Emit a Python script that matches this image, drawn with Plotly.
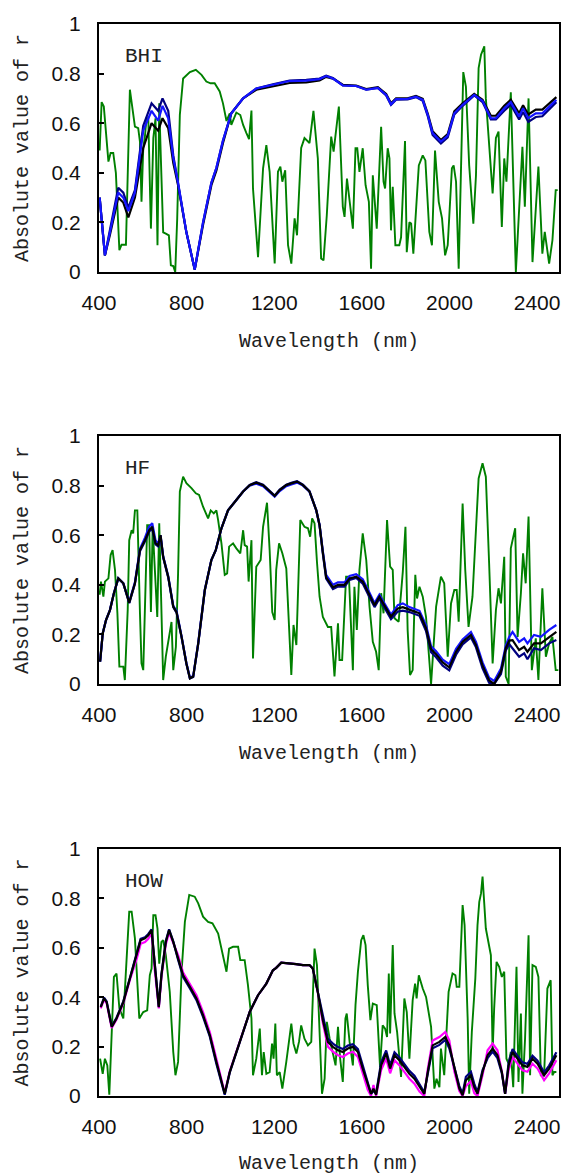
import plotly.graph_objects as go

# ---------------- data ----------------
# Panel BHI
bhi_green_wl = [403, 412, 422, 443, 453, 465, 477, 493, 503, 523, 541, 553, 564, 579, 587, 594, 602, 610, 617, 625,
                637, 648, 658, 667, 675, 682, 693, 705, 719, 728, 739, 748, 757, 769, 784, 815, 842, 868, 890, 909,
                928, 951, 966, 982, 997, 1004, 1027, 1045, 1058, 1073, 1085, 1096, 1103, 1126, 1149, 1164, 1179, 1202,
                1217, 1228, 1237, 1250, 1263, 1278, 1293, 1304, 1323, 1338, 1361, 1379, 1399, 1414, 1425, 1440, 1460,
                1471, 1495, 1513, 1521, 1532, 1559, 1571, 1579, 1589, 1604, 1617, 1632, 1642, 1650, 1668, 1688, 1699,
                1706, 1718, 1726, 1733, 1741, 1753, 1771, 1779, 1797, 1805, 1817, 1825, 1835, 1860, 1878, 1890, 1908,
                1920, 1934, 1951, 1966, 1980, 1992, 2011, 2019, 2030, 2042, 2063, 2075, 2090, 2109, 2121, 2133, 2144,
                2159, 2166, 2181, 2197, 2212, 2224, 2239, 2250, 2260, 2280, 2303, 2318, 2333, 2344, 2361, 2379, 2406,
                2424, 2435, 2455, 2470, 2485, 2494]
bhi_green = [0.49, 0.685, 0.667, 0.445, 0.48, 0.48, 0.40, 0.088, 0.11, 0.11, 0.735, 0.66, 0.586, 0.58, 0.525, 0.283,
             0.50, 0.55, 0.62, 0.62, 0.175, 0.54, 0.62, 0.108, 0.68, 0.47, 0.16, 0.155, 0.148, 0.027, 0.024, 0.0,
             0.215, 0.633, 0.78, 0.806, 0.815, 0.795, 0.768, 0.761, 0.761, 0.728, 0.68, 0.609, 0.64, 0.593, 0.643,
             0.633, 0.593, 0.56, 0.536, 0.651, 0.337, 0.06, 0.418, 0.512, 0.404, 0.034, 0.404, 0.425, 0.364, 0.41,
             0.108, 0.034, 0.216, 0.148, 0.50, 0.54, 0.52, 0.65, 0.458, 0.054, 0.047, 0.23, 0.546, 0.485, 0.667,
             0.263, 0.222, 0.377, 0.175, 0.499, 0.499, 0.404, 0.499, 0.35, 0.283, 0.013, 0.39, 0.175, 0.586, 0.364,
             0.337, 0.499, 0.458, 0.168, 0.344, 0.108, 0.108, 0.14, 0.528, 0.08, 0.2, 0.195, 0.074, 0.43, 0.47, 0.45,
             0.162, 0.108, 0.49, 0.283, 0.216, 0.067, 0.108, 0.418, 0.43, 0.364, 0.013, 0.806, 0.748, 0.43, 0.195,
             0.39, 0.822, 0.876, 0.91, 0.70, 0.499, 0.317, 0.54, 0.566, 0.182, 0.458, 0.364, 0.725, 0.0, 0.229,
             0.505, 0.263, 0.70, 0.04, 0.425, 0.074, 0.162, 0.034, 0.128, 0.33, 0.33]

bhi_wl = [403, 427, 450, 488, 511, 534, 564, 602, 640, 670, 690, 716, 739, 761, 799, 837, 875, 913, 936, 966, 1004,
          1058, 1118, 1194, 1270, 1346, 1407, 1437, 1468, 1513, 1574, 1620, 1673, 1711, 1733, 1756, 1809, 1847, 1878,
          1901, 1923, 1961, 1992, 2022, 2060, 2113, 2151, 2189, 2212, 2250, 2280, 2318, 2336, 2360, 2394, 2424, 2455,
          2488]
bhi_blue = [0.30, 0.067, 0.16, 0.32, 0.30, 0.245, 0.32, 0.57, 0.65, 0.61, 0.67, 0.62, 0.46, 0.36, 0.16, 0.01, 0.20,
            0.36, 0.42, 0.53, 0.64, 0.70, 0.74, 0.755, 0.77, 0.772, 0.778, 0.79, 0.78, 0.752, 0.75, 0.735, 0.742,
            0.714, 0.676, 0.697, 0.698, 0.707, 0.694, 0.633, 0.56, 0.526, 0.55, 0.64, 0.674, 0.714, 0.69, 0.62, 0.62,
            0.66, 0.685, 0.627, 0.66, 0.62, 0.64, 0.64, 0.667, 0.694]
bhi_navy = [0.30, 0.067, 0.17, 0.34, 0.32, 0.26, 0.33, 0.59, 0.68, 0.65, 0.70, 0.65, 0.47, 0.36, 0.16, 0.01, 0.20,
            0.36, 0.42, 0.53, 0.64, 0.70, 0.74, 0.757, 0.772, 0.775, 0.78, 0.792, 0.782, 0.752, 0.75, 0.735, 0.742,
            0.712, 0.674, 0.695, 0.696, 0.705, 0.69, 0.628, 0.553, 0.518, 0.543, 0.635, 0.67, 0.712, 0.685, 0.615,
            0.615, 0.65, 0.675, 0.615, 0.645, 0.605, 0.625, 0.628, 0.655, 0.685]
bhi_black = [0.30, 0.067, 0.15, 0.30, 0.28, 0.22, 0.30, 0.50, 0.60, 0.57, 0.62, 0.58, 0.44, 0.35, 0.16, 0.01, 0.19,
             0.35, 0.41, 0.52, 0.64, 0.70, 0.735, 0.75, 0.762, 0.765, 0.772, 0.787, 0.78, 0.755, 0.752, 0.738, 0.745,
             0.718, 0.68, 0.70, 0.70, 0.71, 0.698, 0.638, 0.568, 0.532, 0.556, 0.648, 0.68, 0.718, 0.695, 0.63, 0.63,
             0.67, 0.695, 0.64, 0.672, 0.635, 0.655, 0.655, 0.68, 0.705]

# Panel HF
hf_green_wl = [403, 409, 420, 427, 443, 453, 462, 473, 484, 493, 511, 518, 531, 538, 549, 556, 564, 575, 587, 594,
               602, 610, 620, 629, 637, 645, 655, 666, 675, 682, 693, 705, 719, 731, 739, 751, 761, 769, 784, 799,
               822, 842, 857, 875, 898, 910, 924, 936, 944, 959, 974, 985, 994, 1012, 1027, 1045, 1058, 1065, 1076,
               1083, 1096, 1103, 1118, 1138, 1149, 1167, 1179, 1191, 1202, 1209, 1222, 1237, 1255, 1267, 1278, 1288,
               1301, 1319, 1338, 1354, 1364, 1373, 1384, 1395, 1407, 1422, 1445, 1460, 1475, 1491, 1498, 1510, 1528,
               1541, 1551, 1559, 1566, 1577, 1589, 1604, 1620, 1635, 1650, 1665, 1677, 1688, 1699, 1715, 1729, 1741,
               1749, 1768, 1787, 1799, 1809, 1820, 1832, 1844, 1852, 1863, 1878, 1893, 1916, 1939, 1961, 1976, 1992,
               2007, 2022, 2033, 2042, 2052, 2060, 2072, 2087, 2105, 2121, 2133, 2151, 2166, 2181, 2197, 2212, 2224,
               2235, 2250, 2257, 2270, 2280, 2300, 2311, 2326, 2336, 2348, 2361, 2376, 2394, 2406, 2424, 2440, 2455,
               2470, 2485, 2497]
hf_green = [0.36, 0.413, 0.352, 0.413, 0.426, 0.52, 0.54, 0.46, 0.285, 0.07, 0.07, 0.016, 0.298, 0.58, 0.62, 0.607,
            0.70, 0.70, 0.285, 0.083, 0.056, 0.298, 0.64, 0.64, 0.29, 0.634, 0.46, 0.27, 0.648, 0.345, 0.016, 0.11,
            0.19, 0.25, 0.056, 0.15, 0.446, 0.776, 0.836, 0.81, 0.79, 0.769, 0.762, 0.715, 0.668, 0.70, 0.688, 0.70,
            0.66, 0.567, 0.44, 0.446, 0.554, 0.567, 0.547, 0.527, 0.62, 0.56, 0.554, 0.413, 0.58, 0.103, 0.473, 0.50,
            0.634, 0.731, 0.54, 0.29, 0.258, 0.46, 0.567, 0.527, 0.466, 0.245, 0.036, 0.238, 0.157, 0.661, 0.634,
            0.628, 0.594, 0.668, 0.648, 0.493, 0.352, 0.27, 0.23, 0.23, 0.03, 0.245, 0.097, 0.097, 0.433, 0.433,
            0.19, 0.056, 0.392, 0.218, 0.46, 0.607, 0.50, 0.312, 0.17, 0.13, 0.056, 0.366, 0.285, 0.661, 0.473, 0.46,
            0.265, 0.251, 0.453, 0.634, 0.218, 0.036, 0.056, 0.44, 0.345, 0.392, 0.352, 0.27, 0.0, 0.312, 0.433,
            0.406, 0.11, 0.325, 0.379, 0.379, 0.251, 0.534, 0.728, 0.46, 0.23, 0.352, 0.634, 0.829, 0.89, 0.836,
            0.487, 0.083, 0.298, 0.386, 0.325, 0.513, 0.03, 0.0, 0.547, 0.628, 0.19, 0.366, 0.527, 0.406, 0.675,
            0.056, 0.184, 0.016, 0.386, 0.11, 0.164, 0.19, 0.056, 0.056]

hf_wl = [405, 417, 432, 450, 468, 488, 511, 538, 564, 587, 610, 629, 643, 658, 670, 681, 693, 716, 739, 754, 777,
         799, 815, 830, 853, 883, 913, 933, 959, 989, 1027, 1058, 1088, 1118, 1149, 1179, 1202, 1225, 1255, 1278,
         1304, 1331, 1361, 1392, 1407, 1422, 1437, 1468, 1491, 1521, 1544, 1574, 1604, 1635, 1658, 1680, 1703, 1733,
         1764, 1787, 1817, 1863, 1893, 1916, 1939, 1969, 1999, 2030, 2060, 2098, 2121, 2151, 2181, 2204, 2235, 2257,
         2273, 2288, 2318, 2341, 2356, 2386, 2417, 2455, 2488]
hf_black = [0.09, 0.204, 0.258, 0.298, 0.366, 0.426, 0.406, 0.328, 0.406, 0.54, 0.58, 0.62, 0.634, 0.567, 0.56,
            0.60, 0.513, 0.433, 0.312, 0.29, 0.19, 0.083, 0.023, 0.03, 0.164, 0.379, 0.50, 0.54, 0.628, 0.70, 0.742,
            0.776, 0.802, 0.812, 0.802, 0.776, 0.758, 0.782, 0.802, 0.809, 0.816, 0.802, 0.776, 0.70, 0.64, 0.53,
            0.43, 0.39, 0.40, 0.40, 0.426, 0.433, 0.413, 0.359, 0.318, 0.352, 0.318, 0.272, 0.305, 0.31, 0.30, 0.285,
            0.225, 0.14, 0.12, 0.087, 0.067, 0.13, 0.17, 0.198, 0.158, 0.075, 0.015, 0.0, 0.05, 0.145, 0.175, 0.177,
            0.137, 0.15, 0.13, 0.164, 0.164, 0.19, 0.21]
hf_blue = [0.09, 0.204, 0.258, 0.298, 0.366, 0.426, 0.406, 0.33, 0.41, 0.545, 0.59, 0.635, 0.648, 0.58, 0.565,
           0.60, 0.515, 0.435, 0.315, 0.295, 0.192, 0.085, 0.025, 0.032, 0.166, 0.38, 0.50, 0.54, 0.628, 0.70, 0.742,
           0.776, 0.80, 0.808, 0.798, 0.772, 0.755, 0.778, 0.798, 0.805, 0.812, 0.80, 0.775, 0.70, 0.64, 0.535,
           0.44, 0.40, 0.41, 0.41, 0.436, 0.443, 0.423, 0.368, 0.326, 0.36, 0.326, 0.28, 0.318, 0.325, 0.31, 0.295,
           0.237, 0.152, 0.132, 0.098, 0.08, 0.142, 0.18, 0.21, 0.17, 0.087, 0.025, 0.012, 0.062, 0.155, 0.19, 0.21,
           0.17, 0.184, 0.164, 0.198, 0.19, 0.218, 0.238]
hf_navy = [0.09, 0.204, 0.258, 0.298, 0.366, 0.426, 0.406, 0.326, 0.404, 0.535, 0.575, 0.615, 0.625, 0.563, 0.555,
           0.595, 0.51, 0.43, 0.31, 0.288, 0.188, 0.082, 0.022, 0.028, 0.162, 0.377, 0.50, 0.54, 0.628, 0.70, 0.742,
           0.776, 0.803, 0.814, 0.804, 0.778, 0.76, 0.784, 0.804, 0.811, 0.818, 0.804, 0.778, 0.70, 0.64, 0.525,
           0.425, 0.383, 0.393, 0.393, 0.42, 0.428, 0.405, 0.35, 0.31, 0.344, 0.31, 0.262, 0.292, 0.296, 0.29, 0.275,
           0.213, 0.128, 0.108, 0.074, 0.055, 0.118, 0.16, 0.188, 0.148, 0.063, 0.005, 0.0, 0.04, 0.135, 0.16, 0.144,
           0.11, 0.124, 0.10, 0.144, 0.137, 0.164, 0.177]

# Panel HOW
how_green_wl = [405, 417, 427, 438, 447, 458, 468, 480, 493, 511, 526, 538, 549, 564, 584, 602, 620, 632, 640, 648,
                658, 667, 675, 685, 693, 705, 723, 739, 749, 761, 777, 792, 812, 837, 853, 875, 898, 918, 944, 963,
                982, 994, 1012, 1035, 1045, 1065, 1080, 1096, 1103, 1118, 1134, 1144, 1152, 1164, 1179, 1190, 1197,
                1205, 1212, 1225, 1237, 1255, 1267, 1278, 1288, 1301, 1313, 1323, 1338, 1354, 1369, 1384, 1395, 1407,
                1418, 1430, 1440, 1453, 1468, 1480, 1491, 1501, 1513, 1525, 1531, 1544, 1559, 1571, 1582, 1597, 1607,
                1617, 1627, 1639, 1650, 1668, 1683, 1695, 1706, 1715, 1723, 1729, 1741, 1749, 1761, 1779, 1794, 1805,
                1817, 1832, 1843, 1850, 1860, 1878, 1893, 1916, 1931, 1941, 1954, 1961, 1976, 1996, 2014, 2027, 2033,
                2045, 2060, 2069, 2083, 2090, 2102, 2118, 2128, 2136, 2144, 2151, 2166, 2189, 2197, 2204, 2215, 2227,
                2239, 2250, 2260, 2270, 2280, 2291, 2306, 2315, 2326, 2333, 2345, 2361, 2368, 2379, 2394, 2406, 2417,
                2432, 2447, 2462, 2470, 2478, 2488]
how_green = [0.151, 0.09, 0.151, 0.124, 0.005, 0.273, 0.482, 0.496, 0.355, 0.314, 0.57, 0.746, 0.746, 0.638, 0.314,
             0.34, 0.347, 0.489, 0.516, 0.732, 0.732, 0.678, 0.536, 0.624, 0.631, 0.57, 0.422, 0.178, 0.084, 0.138,
             0.503, 0.705, 0.814, 0.807, 0.78, 0.726, 0.705, 0.699, 0.658, 0.584, 0.503, 0.597, 0.604, 0.604, 0.55,
             0.55, 0.449, 0.314, 0.084, 0.151, 0.273, 0.084, 0.178, 0.09, 0.097, 0.212, 0.151, 0.293, 0.084, 0.097,
             0.03, 0.138, 0.219, 0.293, 0.212, 0.172, 0.219, 0.286, 0.232, 0.205, 0.219, 0.597, 0.53, 0.259, 0.009,
             0.07, 0.3, 0.232, 0.165, 0.124, 0.28, 0.151, 0.057, 0.314, 0.334, 0.219, 0.124, 0.368, 0.503, 0.631,
             0.651, 0.611, 0.449, 0.307, 0.374, 0.368, 0.118, 0.286, 0.273, 0.239, 0.496, 0.253, 0.611, 0.334, 0.259,
             0.077, 0.395, 0.34, 0.151, 0.388, 0.455, 0.395, 0.489, 0.435, 0.401, 0.28, 0.03, 0.07, 0.036, 0.192,
             0.084, 0.422, 0.496, 0.489, 0.442, 0.442, 0.773, 0.692, 0.314, 0.009, 0.259, 0.476, 0.692, 0.786, 0.82,
             0.888, 0.678, 0.57, 0.178, 0.354, 0.543, 0.523, 0.482, 0.503, 0.151, 0.131, 0.178, 0.036, 0.523, 0.057,
             0.334, 0.009, 0.232, 0.651, 0.084, 0.53, 0.523, 0.482, 0.084, 0.084, 0.435, 0.469, 0.084, 0.097, 0.097]

how_wl = [408, 423, 435, 458, 480, 511, 541, 572, 590, 610, 625, 640, 655, 673, 685, 705, 720, 739, 761, 784, 815,
          845, 875, 906, 936, 959, 974, 997, 1027, 1058, 1088, 1126, 1164, 1194, 1209, 1232, 1270, 1300, 1331, 1361,
          1376, 1399, 1422, 1445, 1468, 1491, 1513, 1536, 1559, 1582, 1604, 1627, 1642, 1653, 1665, 1688, 1711, 1729,
          1749, 1771, 1794, 1817, 1840, 1863, 1885, 1901, 1923, 1954, 1981, 1999, 2022, 2045, 2060, 2075, 2098, 2113,
          2128, 2151, 2174, 2197, 2219, 2239, 2254, 2270, 2288, 2311, 2333, 2356, 2379, 2402, 2432, 2455, 2488]
how_black = [0.36, 0.395, 0.38, 0.28, 0.314, 0.38, 0.476, 0.57, 0.631, 0.638, 0.651, 0.672, 0.516, 0.36, 0.489,
             0.624, 0.672, 0.624, 0.557, 0.489, 0.442, 0.395, 0.327, 0.246, 0.138, 0.057, 0.009, 0.097, 0.178, 0.266,
             0.34, 0.408, 0.455, 0.509, 0.519, 0.54, 0.538, 0.534, 0.53, 0.53, 0.516, 0.42, 0.307, 0.219, 0.199,
             0.185, 0.178, 0.192, 0.199, 0.178, 0.111, 0.043, 0.009, 0.03, 0.005, 0.124, 0.172, 0.111, 0.165, 0.145,
             0.118, 0.09, 0.07, 0.036, 0.009, 0.097, 0.205, 0.219, 0.239, 0.205, 0.111, 0.03, 0.003, 0.064, 0.084,
             0.036, 0.009, 0.097, 0.165, 0.192, 0.165, 0.097, 0.009, 0.124, 0.178, 0.151, 0.124, 0.118, 0.151, 0.131,
             0.084, 0.111, 0.165]
how_magenta = [0.355, 0.39, 0.375, 0.275, 0.31, 0.375, 0.47, 0.555, 0.616, 0.623, 0.636, 0.66, 0.505, 0.355, 0.48,
               0.614, 0.662, 0.62, 0.57, 0.5, 0.455, 0.408, 0.34, 0.258, 0.15, 0.068, 0.012, 0.1, 0.178, 0.266, 0.34,
               0.408, 0.455, 0.509, 0.519, 0.54, 0.538, 0.534, 0.53, 0.53, 0.516, 0.42, 0.295, 0.2, 0.18, 0.165,
               0.158, 0.172, 0.179, 0.158, 0.092, 0.025, 0.0, 0.045, 0.0, 0.105, 0.152, 0.092, 0.145, 0.125, 0.098,
               0.07, 0.05, 0.018, 0.0, 0.11, 0.225, 0.239, 0.259, 0.225, 0.1, 0.02, 0.0, 0.04, 0.06, 0.012, 0.0,
               0.085, 0.185, 0.212, 0.185, 0.1, 0.009, 0.105, 0.158, 0.131, 0.104, 0.098, 0.131, 0.111, 0.064, 0.091,
               0.145]
how_navy = [0.362, 0.398, 0.383, 0.283, 0.317, 0.383, 0.478, 0.575, 0.636, 0.643, 0.656, 0.675, 0.52, 0.362, 0.492,
            0.628, 0.675, 0.626, 0.552, 0.482, 0.435, 0.388, 0.32, 0.24, 0.13, 0.05, 0.005, 0.095, 0.178, 0.266, 0.34,
            0.408, 0.455, 0.509, 0.519, 0.54, 0.538, 0.534, 0.53, 0.53, 0.516, 0.42, 0.315, 0.232, 0.212, 0.198,
            0.19, 0.204, 0.21, 0.19, 0.124, 0.055, 0.009, 0.02, 0.01, 0.136, 0.184, 0.124, 0.177, 0.157, 0.13, 0.102,
            0.082, 0.048, 0.015, 0.09, 0.193, 0.207, 0.227, 0.193, 0.12, 0.04, 0.01, 0.078, 0.098, 0.05, 0.015,
            0.105, 0.153, 0.18, 0.153, 0.092, 0.009, 0.136, 0.19, 0.163, 0.136, 0.13, 0.163, 0.143, 0.096, 0.123,
            0.177]

panel_labels = ["BHI", "HF", "HOW"]
x_ticks = [400, 800, 1200, 1600, 2000, 2400]
y_ticks = [0, 0.2, 0.4, 0.6, 0.8, 1]
y_ticktext = ["0", "0.2", "0.4", "0.6", "0.8", "1"]

# ---------------- figure ----------------
W, H = 564, 1175
GREEN, BLUE, NAVY, BLACK, MAGENTA = "#008000", "#1414FF", "#000080", "#000000", "#FF00FF"

fig = go.Figure()

def add(x, y, color, axis_idx, width=2.2):
    sfx = "" if axis_idx == 1 else str(axis_idx)
    fig.add_trace(go.Scatter(x=x, y=y, mode="lines", line=dict(color=color, width=width),
                             xaxis="x" + sfx, yaxis="y" + sfx, showlegend=False, hoverinfo="skip"))

# BHI
add(bhi_green_wl, bhi_green, GREEN, 1, 1.9)
add(bhi_wl, bhi_black, BLACK, 1)
add(bhi_wl, bhi_navy, NAVY, 1)
add(bhi_wl, bhi_blue, BLUE, 1)
# HF
add(hf_green_wl, hf_green, GREEN, 2, 1.9)
add(hf_wl, hf_navy, NAVY, 2)
add(hf_wl, hf_blue, BLUE, 2)
add(hf_wl, hf_black, BLACK, 2)
# HOW
add(how_green_wl, how_green, GREEN, 3, 1.9)
add(how_wl, how_magenta, MAGENTA, 3)
add(how_wl, how_navy, NAVY, 3)
add(how_wl, how_black, BLACK, 3)

left_px, right_px = 99, 559
panels_px = [(24, 272), (436, 684), (849, 1096)]
x_dom = [left_px / W, right_px / W]

tick_font = dict(family="Liberation Sans, Arial, sans-serif", size=21, color="#111111")
title_font = dict(family="Liberation Mono, DejaVu Sans Mono, monospace", size=20, color="#222222")

layout = dict(
    width=W, height=H, margin=dict(l=0, r=0, t=0, b=0),
    paper_bgcolor="white", plot_bgcolor="white", showlegend=False,
)
annotations = []
for i, (top, bot) in enumerate(panels_px, start=1):
    sfx = "" if i == 1 else str(i)
    y_dom = [1 - bot / H, 1 - top / H]
    layout["xaxis" + sfx] = dict(
        domain=x_dom, range=[400, 2500], anchor="y" + sfx, automargin=False,
        showline=True, mirror=True, linecolor="black", linewidth=2,
        showgrid=False, zeroline=False, ticks="", tickvals=x_ticks,
        tickfont=tick_font, ticklabelstandoff=11,
        title=dict(text="Wavelength (nm)", font=title_font, standoff=20),
    )
    layout["yaxis" + sfx] = dict(
        domain=y_dom, range=[0, 1], anchor="x" + sfx, automargin=False,
        showline=True, mirror=True, linecolor="black", linewidth=2,
        showgrid=False, zeroline=False, ticks="inside", ticklen=5, tickcolor="black", tickwidth=1.5,
        tickvals=y_ticks, ticktext=y_ticktext, tickfont=tick_font, ticklabelstandoff=12,
        title=dict(text="Absolute value of r", font=title_font, standoff=18),
    )
    annotations.append(dict(
        text=panel_labels[i - 1], xref="x" + sfx + " domain", yref="y" + sfx + " domain",
        x=0.053, y=0.87, xanchor="left", yanchor="middle", showarrow=False,
        font=dict(family="Liberation Mono, DejaVu Sans Mono, monospace", size=21, color="#222222"),
    ))
layout["annotations"] = annotations
fig.update_layout(**layout)

fig.write_html("out.html", config={"displayModeBar": False},
               post_script="document.body.style.margin='0';document.body.style.overflow='hidden';")
